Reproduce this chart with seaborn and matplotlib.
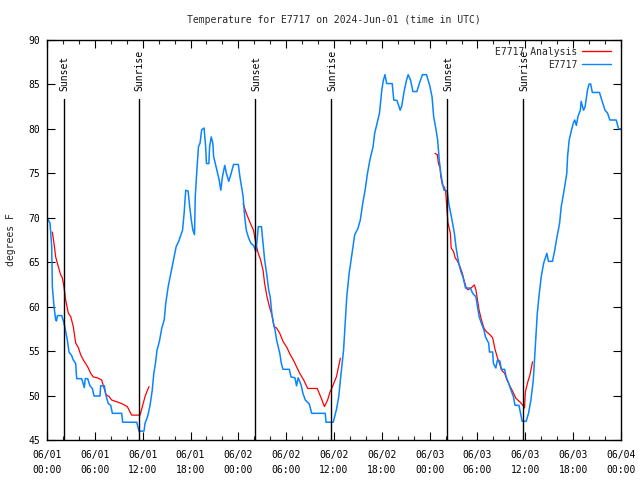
import numpy as np
import pandas as pd
import matplotlib
matplotlib.use("Agg")
import matplotlib.pyplot as plt
import seaborn as sns
from matplotlib.lines import Line2D
from matplotlib.ticker import MultipleLocator

# ---- data (hours since 2024-06-01 00:00 UTC, temperature in deg F) ----
obs_hours = [0.0, 0.38, 0.59, 0.67, 0.88, 1.09, 1.2, 1.3, 1.84, 2.05, 2.26, 2.55, 2.76, 3.09, 3.30,
             3.60, 3.72, 4.35, 4.55, 4.68, 4.80, 5.10, 5.39, 5.69, 5.90, 6.65, 6.73, 7.19, 7.36, 7.49,
             7.69, 7.99, 8.20, 9.37, 9.49, 11.25, 11.37, 11.54, 12.17, 12.3, 12.6, 12.9, 13.2, 13.4,
             13.6, 13.8, 14.1, 14.4, 14.7, 14.9, 15.2, 15.5, 15.8, 16.2, 16.5, 16.8, 17.0, 17.2, 17.4,
             17.7, 17.9, 18.1, 18.3, 18.5, 18.6, 18.8, 19.0, 19.2, 19.4, 19.7, 19.9, 20.0, 20.3, 20.4,
             20.6, 20.8, 20.9, 21.3, 21.6, 21.8, 22.0, 22.3, 22.5, 22.8, 23.1, 23.4, 24.0, 24.2, 24.4,
             24.6, 24.8, 25.0, 25.3, 25.6, 25.9, 26.2, 26.4, 26.5, 26.9, 27.1, 27.3, 27.6, 27.8, 28.0,
             28.2, 28.4, 28.6, 28.8, 29.0, 29.2, 29.4, 29.6, 30.4, 30.6, 31.1, 31.3, 31.5, 31.7, 31.9,
             32.1, 32.4, 32.9, 33.2, 34.9, 35.0, 35.9, 36.3, 36.6, 36.8, 37.2, 37.4, 37.6, 37.9, 38.2,
             38.6, 39.0, 39.3, 39.6, 39.9, 40.2, 40.5, 40.9, 41.1, 41.4, 41.7, 42.0, 42.2, 42.4, 42.6,
             43.3, 43.5, 43.9, 44.3, 44.5, 44.8, 45.1, 45.3, 45.6, 45.9, 46.4, 46.7, 47.1, 47.6, 48.0,
             48.3, 48.5, 48.8, 49.0, 49.2, 49.4, 49.6, 49.8, 50.2, 50.4, 50.8, 51.1, 51.3, 51.5, 51.7,
             51.9, 52.2, 52.5, 53.1, 53.4, 53.8, 54.0, 54.2, 54.5, 54.8, 55.0, 55.4, 55.5, 55.9, 56.0,
             56.3, 56.5, 56.8, 57.0, 57.4, 57.6, 57.9, 58.2, 58.5, 58.7, 59.2, 59.4, 59.6, 60.1, 60.4,
             60.7, 61.0, 61.2, 61.5, 61.7, 62.0, 62.3, 62.7, 62.9, 63.4, 63.7, 63.9, 64.3, 64.5, 64.8,
             65.0, 65.2, 65.3, 65.5, 65.8, 66.0, 66.2, 66.4, 66.6, 66.9, 67.0, 67.3, 67.5, 67.8, 68.0,
             68.2, 68.4, 69.3, 69.6, 70.0, 70.3, 70.6, 71.4, 71.7, 72.0]
obs_temps = [70.0, 69.4, 66.75, 62.25, 60.0, 58.5, 58.4, 59.0, 59.0, 58.4, 57.6, 56.25, 54.9, 54.5, 54.0,
             53.6, 51.9, 51.9, 51.3, 50.9, 51.9, 51.9, 51.1, 50.8, 49.95, 49.95, 51.1, 51.1, 50.2, 49.7,
             49.1, 48.9, 48.0, 48.0, 47.0, 47.0, 46.6, 46.0, 46.0, 46.9, 47.6, 48.75, 50.6, 52.5,
             53.6, 55.1, 56.1, 57.6, 58.5, 60.4, 62.25, 63.6, 64.9, 66.75, 67.3, 68.1, 68.6, 70.5, 73.1,
             73.0, 71.25, 69.75, 68.6, 68.1, 72.4, 75.4, 78.0, 78.4, 79.9, 80.1, 78.0, 76.1, 76.1, 78.0,
             79.1, 78.4, 76.9, 75.4, 74.25, 73.1, 74.6, 75.9, 75.0, 74.1, 75.0, 76.0, 76.0, 74.6, 73.5,
             72.4, 70.1, 68.6, 67.7, 67.1, 66.9, 66.2, 67.9, 69.0, 69.0, 67.1, 65.25, 63.4, 61.9, 61.1,
             59.25, 58.1, 57.4, 56.25, 55.5, 54.75, 53.6, 52.95, 52.95, 52.1, 52.0, 51.1, 52.0, 51.6, 51.1,
             50.25, 49.5, 49.05, 48.0, 48.0, 47.0, 47.0, 48.4, 49.9, 51.75, 55.1, 58.1, 61.1, 63.75, 65.6,
             68.1, 68.8, 69.75, 71.6, 73.1, 75.0, 76.5, 78.0, 79.5, 80.6, 81.75, 84.4, 85.5, 86.1, 85.1,
             85.1, 83.25, 83.2, 82.1, 82.6, 84.25, 85.5, 86.1, 85.5, 84.2, 84.2, 85.1, 86.1, 86.1, 84.9,
             83.6, 81.4, 79.9, 78.75, 76.5, 75.0, 73.9, 73.1, 73.0, 71.6, 69.75, 68.25, 66.75, 65.6, 64.7,
             64.0, 63.25, 62.1, 62.1, 61.5, 61.1, 60.0, 58.9, 58.1, 57.4, 56.6, 55.9, 54.9, 54.9, 53.6,
             53.1, 54.0, 53.9, 52.95, 52.95, 52.1, 51.4, 50.6, 49.9, 48.9, 48.9, 48.0, 47.1, 47.1, 48.0,
             49.5, 51.75, 54.75, 59.25, 61.1, 63.4, 64.9, 66.0, 65.1, 65.1, 66.4, 67.5, 69.4, 71.25, 72.75,
             73.9, 75.0, 76.9, 78.75, 79.9, 80.6, 81.0, 80.4, 81.4, 82.1, 83.1, 82.1, 82.5, 84.4, 85.05,
             85.05, 84.1, 84.1, 83.2, 82.1, 81.8, 81.0, 81.0, 80.0, 80.0]

ana1_hours = [0.67, 0.88, 1.09, 1.42, 1.71, 1.92, 2.13, 2.34, 2.68, 2.97, 3.30, 3.60, 3.93, 4.22, 4.56,
              4.85, 5.18, 5.48, 5.81, 6.31, 6.86, 7.07, 7.40, 7.78, 8.11, 8.74, 9.37, 10.08, 10.62,
              11.67, 11.96, 12.3, 12.6, 12.8]
ana1_temps = [68.4, 67.1, 65.6, 64.5, 63.6, 63.25, 62.25, 60.75, 59.25, 58.9, 57.75, 55.9, 55.4, 54.6, 54.0,
              53.6, 53.1, 52.5, 52.1, 52.0, 51.75, 51.1, 50.1, 49.9, 49.5, 49.3, 49.1, 48.75, 47.8,
              47.8, 48.75, 49.9, 50.6, 51.0]
ana2_hours = [24.6, 25.0, 25.5, 25.9, 26.2, 26.5, 26.8, 27.1, 27.3, 27.6, 27.9, 28.2, 28.5, 28.8, 29.2,
              29.6, 30.1, 30.5, 30.9, 31.3, 31.7, 32.2, 32.7, 33.9, 34.4, 34.8, 35.2, 35.5, 35.8, 36.3, 36.8]
ana2_temps = [71.6, 70.5, 69.4, 68.6, 67.1, 66.0, 65.25, 64.1, 62.6, 61.1, 60.0, 59.1, 57.75, 57.6, 57.0,
              56.1, 55.4, 54.6, 54.0, 53.25, 52.5, 51.75, 50.8, 50.8, 49.7, 48.75, 49.5, 50.4, 51.0, 52.1, 54.2]
ana3_hours = [48.67, 48.96, 49.1, 49.3, 49.4, 49.6, 49.8, 50.0, 50.1, 50.2, 50.3, 50.6, 50.7, 51.0, 51.2,
              51.5, 51.8, 52.1, 52.3, 52.6, 52.8, 53.2, 53.6, 53.8, 54.0, 54.2, 54.5, 54.8, 55.1, 55.5,
              55.9, 56.2, 56.5, 56.8, 57.0, 57.4, 57.7, 58.1, 58.4, 58.8, 59.3, 59.7, 59.9, 60.0, 60.3,
              60.6, 60.9]
ana3_temps = [77.25, 77.1, 76.1, 75.6, 74.6, 73.7, 73.5, 73.0, 71.8, 70.5, 69.4, 68.25, 66.6, 66.2, 65.5,
              65.1, 64.5, 63.75, 63.0, 62.1, 61.9, 62.1, 62.45, 61.9, 60.75, 59.6, 58.5, 57.6, 57.2, 56.9,
              56.5, 55.2, 54.25, 53.5, 52.9, 52.5, 51.75, 51.0, 50.5, 49.7, 49.3, 48.9, 48.6, 50.4, 51.5,
              52.4, 53.8]

sun_hours = [2.13, 11.54, 26.13, 35.67, 50.22, 59.75]
sun_labels = ["Sunset", "Sunrise", "Sunset", "Sunrise", "Sunset", "Sunrise"]

xtick_hours = list(range(0, 73, 6))
xtick_labels = ["06/01\n00:00", "06/01\n06:00", "06/01\n12:00", "06/01\n18:00",
                "06/02\n00:00", "06/02\n06:00", "06/02\n12:00", "06/02\n18:00",
                "06/03\n00:00", "06/03\n06:00", "06/03\n12:00", "06/03\n18:00",
                "06/04\n00:00"]
ytick_values = list(range(45, 91, 5))

title = "Temperature for E7717 on 2024-Jun-01 (time in UTC)"

# ---- build tables ----
obs_df = pd.DataFrame({"hour": obs_hours, "temp": obs_temps})
ana_df = pd.concat([
    pd.DataFrame({"hour": ana1_hours, "temp": ana1_temps, "seg": 1}),
    pd.DataFrame({"hour": ana2_hours, "temp": ana2_temps, "seg": 2}),
    pd.DataFrame({"hour": ana3_hours, "temp": ana3_temps, "seg": 3}),
], ignore_index=True)

sns.set_theme(style="white")
plt.rcParams["font.family"] = ["DejaVu Sans Mono", "DejaVu Sans"]
plt.rcParams["font.size"] = 7

RED = "#ff0000"
BLUE = "#0a84ff"

fig = plt.figure(figsize=(6.4, 4.8), dpi=100)
ax = fig.add_axes([47 / 640, 1 - 440 / 480, (621 - 47) / 640, 400 / 480])

sns.lineplot(data=ana_df, x="hour", y="temp", units="seg", estimator=None, sort=False,
             color=RED, linewidth=0.9, ax=ax, legend=False)
sns.lineplot(data=obs_df, x="hour", y="temp", estimator=None, sort=False,
             color=BLUE, linewidth=1.1, ax=ax, legend=False)

ax.set_xlim(0, 72)
ax.set_ylim(45, 90)

# sunrise / sunset markers
for h, lab in zip(sun_hours, sun_labels):
    ax.plot([h, h], [45, 83.35], color="black", linewidth=1.0)
    ax.text(h + 0.1, 84.3, lab, rotation=90, ha="center", va="bottom",
            fontsize=7, color="black")

ax.set_xticks(xtick_hours)
ax.set_xticklabels(xtick_labels, fontsize=7, linespacing=1.6)
ax.xaxis.set_minor_locator(MultipleLocator(2))
ax.set_yticks(ytick_values)
ax.set_yticklabels([str(v) for v in ytick_values], fontsize=7)

ax.tick_params(axis="both", which="major", direction="in", length=6, width=0.8,
               top=True, right=True, bottom=True, left=True, colors="black", pad=5)
ax.tick_params(axis="x", which="minor", direction="in", length=3, width=0.8,
               top=True, bottom=True)
ax.tick_params(axis="x", which="major", pad=7)

for sp in ax.spines.values():
    sp.set_color("black")
    sp.set_linewidth(1.0)
    sp.set_visible(True)

ax.set_xlabel("")
ax.set_ylabel("degrees F", fontsize=7, labelpad=9)
ax.set_title(title, fontsize=7, pad=12)

handles = [Line2D([], [], color=RED, linewidth=1.0), Line2D([], [], color=BLUE, linewidth=1.0)]
ax.legend(handles, ["E7717 Analysis", "E7717"], loc="upper right", frameon=False,
          markerfirst=False, fontsize=7, handlelength=3.0, handletextpad=0.5,
          labelspacing=0.3, borderaxespad=0.3, bbox_to_anchor=(0.995, 1.0))

fig.savefig("out.png", dpi=100, facecolor="white")
